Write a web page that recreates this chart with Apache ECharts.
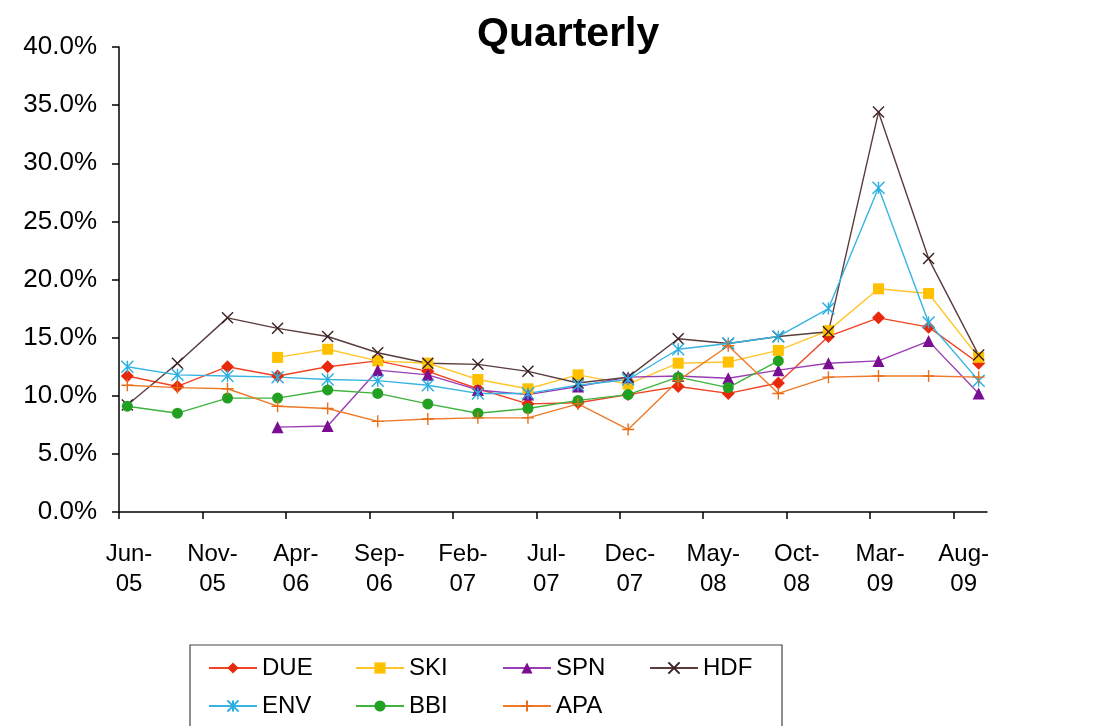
<!DOCTYPE html>
<html>
<head>
<meta charset="utf-8">
<title>Quarterly</title>
<script src="https://cdn.jsdelivr.net/npm/echarts/dist/echarts.min.js"></script>
<style>
  html, body { margin: 0; padding: 0; background: #fff; }
  #chart { width: 1097px; height: 726px; }
</style>
</head>
<body>
<div id="chart"></div>
<script>
// months counted from 1 Jun 2005, each quarter plotted mid-month
const xMonths = [0.5, 3.5, 6.5, 9.5, 12.5, 15.5, 18.5, 21.5, 24.5, 27.5, 30.5, 33.5, 36.5, 39.5, 42.5, 45.5, 48.5, 51.5];
const tickMonths = [0, 5, 10, 15, 20, 25, 30, 35, 40, 45, 50];
const tickLabels = ['Jun-\n05', 'Nov-\n05', 'Apr-\n06', 'Sep-\n06', 'Feb-\n07', 'Jul-\n07', 'Dec-\n07', 'May-\n08', 'Oct-\n08', 'Mar-\n09', 'Aug-\n09'];

// % values, null = no data
const due = [11.7, 10.8, 12.5, 11.7, 12.5, 13.0, 12.1, 10.6, 9.3, 9.4, 10.1, 10.8, 10.2, 11.1, 15.1, 16.7, 15.9, 12.8];
const ski = [null, null, null, 13.3, 14.0, 13.0, 12.8, 11.4, 10.6, 11.8, 11.0, 12.8, 12.9, 13.9, 15.6, 19.2, 18.8, 13.3];
const spn = [null, null, null, 7.3, 7.4, 12.2, 11.8, 10.5, 10.1, 10.8, 11.6, 11.7, 11.5, 12.2, 12.8, 13.0, 14.7, 10.2];
const hdf = [9.2, 12.8, 16.7, 15.8, 15.1, 13.7, 12.8, 12.7, 12.1, 11.1, 11.6, 14.9, 14.5, 15.1, 15.5, 34.4, 21.8, 13.5];
const env = [12.5, 11.8, 11.7, 11.6, 11.4, 11.3, 10.9, 10.2, 10.2, 10.9, 11.4, 14.0, 14.5, 15.1, 17.5, 27.9, 16.3, 11.3];
const bbi = [9.1, 8.5, 9.8, 9.8, 10.5, 10.2, 9.3, 8.5, 8.9, 9.6, 10.1, 11.6, 10.7, 13.0, null, null, null, null];
const apa = [10.9, 10.7, 10.6, 9.1, 8.9, 7.8, 8.0, 8.1, 8.1, 9.3, 7.1, 11.3, 14.3, 10.2, 11.6, 11.7, 11.7, 11.6];

const FONT = '"Liberation Sans", Arial, sans-serif';

// marker shapes that Excel uses but echarts doesn't have
const xMark = 'path://M0,0L10,10M10,0L0,10';
const starMark = 'path://M0,0L10,10M10,0L0,10M5,0L5,10';
const plusMark = 'path://M5,0L5,10M0,5L10,5';

function pairs(vals) {
  const out = [];
  vals.forEach((v, i) => { if (v != null) out.push([xMonths[i], v]); });
  return out;
}

function makeSeries(name, vals, lineColor, markColor, symbol, size, stroked) {
  return {
    name: name,
    type: 'line',
    data: pairs(vals),
    symbol: symbol,
    symbolSize: size,
    showAllSymbol: true,
    lineStyle: { color: lineColor, width: 1.4 },
    itemStyle: stroked
      ? { color: markColor, borderColor: markColor, borderWidth: 1.4 }
      : { color: markColor, borderWidth: 0 },
    emphasis: { disabled: true },
    animation: false
  };
}

const chart = echarts.init(document.getElementById('chart'));

chart.setOption({
  backgroundColor: '#fff',
  title: {
    text: 'Quarterly',
    left: 472,
    top: 9,
    textStyle: { fontFamily: FONT, fontSize: 41, fontWeight: 'bold', color: '#000' }
  },
  grid: { left: 119, right: 110, top: 47, bottom: 214 },
  legend: {
    left: 190,
    top: 645,
    width: 620,
    padding: [11, 0, 40, 18],
    borderColor: '#444',
    borderWidth: 1.2,
    itemWidth: 48,
    itemHeight: 14,
    itemGap: 14,
    // fixed-width labels so the two rows line up in columns
    formatter: name => '{a|' + name + '}',
    textStyle: {
      rich: { a: { fontFamily: FONT, fontSize: 24, color: '#000', width: 79, lineHeight: 24 } }
    },
    data: ['DUE', 'SKI', 'SPN', 'HDF', 'ENV', 'BBI', 'APA']
  },
  xAxis: {
    type: 'value',
    min: 0,
    max: 52,
    axisLine: { show: true, lineStyle: { color: '#000', width: 1.5 } },
    axisTick: { show: true, length: 7, customValues: tickMonths, lineStyle: { color: '#000', width: 1.5 } },
    axisLabel: {
      customValues: tickMonths.map(m => m + 0.6),
      formatter: v => tickLabels[Math.round((v - 0.6) / 5)],
      fontFamily: FONT,
      fontSize: 24,
      lineHeight: 30,
      color: '#000',
      margin: 27
    },
    splitLine: { show: false }
  },
  yAxis: {
    type: 'value',
    min: 0,
    max: 40,
    interval: 5,
    axisLine: { show: true, lineStyle: { color: '#000', width: 1.5 } },
    axisTick: { show: true, length: 7, lineStyle: { color: '#000', width: 1.5 } },
    axisLabel: {
      formatter: v => v.toFixed(1) + '%',
      fontFamily: FONT,
      fontSize: 26,
      color: '#000',
      margin: 22
    },
    splitLine: { show: false }
  },
  series: [
    makeSeries('DUE', due, '#F04424', '#E8290B', 'diamond', 13, false),
    makeSeries('SKI', ski, '#FFC62A', '#FFC000', 'rect', 11, false),
    makeSeries('SPN', spn, '#9B3DB5', '#7A0E92', 'triangle', 12, false),
    makeSeries('HDF', hdf, '#5A3C3C', '#3A2020', xMark, 11, true),
    makeSeries('ENV', env, '#36B4E2', '#28AEE0', starMark, 12, true),
    makeSeries('BBI', bbi, '#3DB43D', '#22A022', 'circle', 11, false),
    makeSeries('APA', apa, '#EE7A2A', '#EA6E18', plusMark, 12, true)
  ]
});
</script>
</body>
</html>
